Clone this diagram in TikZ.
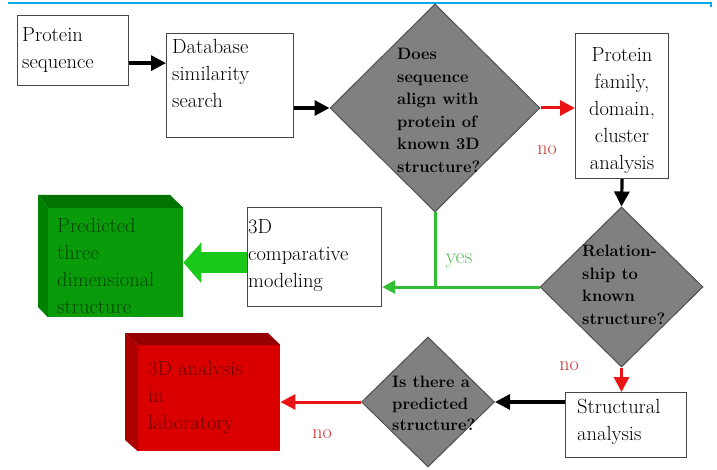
\documentclass[tikz,border=0pt]{standalone}
\usetikzlibrary{arrows.meta,shapes.geometric,calc}
\definecolor{boxgray}{RGB}{70,70,70}
\definecolor{diafill}{RGB}{128,128,128}
\definecolor{diagray}{RGB}{80,80,80}
\definecolor{gfront}{RGB}{10,155,10}
\definecolor{gtop}{RGB}{0,115,0}
\definecolor{gside}{RGB}{0,128,0}
\definecolor{gtext}{RGB}{0,70,0}
\definecolor{garrowc}{RGB}{25,200,25}
\definecolor{glinec}{RGB}{50,190,50}
\definecolor{glabel}{RGB}{90,190,90}
\definecolor{rfront}{RGB}{218,0,0}
\definecolor{rtop}{RGB}{150,0,0}
\definecolor{rside}{RGB}{170,0,0}
\definecolor{rtext}{RGB}{110,0,0}
\definecolor{rlinec}{RGB}{235,20,20}
\definecolor{rlabel}{RGB}{210,50,50}
\definecolor{topblue}{RGB}{0,170,235}
\begin{document}
\begin{tikzpicture}[x=1pt,y=-1pt,
  box/.style={draw=boxgray, line width=1.2pt, fill=white, inner sep=0, anchor=north west},
  txt/.style={inner sep=0, anchor=north west, align=left, font=\fontsize{20.5}{27}\selectfont},
  dia/.style={diamond, draw=diagray, fill=diafill, line width=1pt, inner sep=0},
  dtxt/.style={inner sep=0, anchor=north west, align=left, font=\bfseries\fontsize{16.5}{22.5}\selectfont},
  lbl/.style={inner sep=0, font=\fontsize{20}{25}\selectfont},
  blockface/.style={inner sep=0, anchor=north west},
  barr/.style={draw=black, line width=3.2pt, -{Triangle[length=15pt,width=15pt]}},
  rarr/.style={draw=rlinec, line width=3pt, -{Triangle[length=15pt,width=15pt]}},
  garr/.style={draw=glinec, line width=3pt, -{Triangle[length=13pt,width=13pt]}},
  gline/.style={draw=glinec, line width=3pt},
  bigarr/.style={draw=garrowc, line width=21pt, -{Triangle[length=18pt,width=40pt]}},
]
\useasboundingbox (0,0) rectangle (717,470);
\fill[white] (0,0) rectangle (717,470);
\draw[topblue, line width=1.5pt] (8,3) -- (711,3) -- (711,7);

% boxes
\node[box, minimum width=111pt, minimum height=70pt] (ps) at (17,15) {};
\node[box, minimum width=127pt, minimum height=104pt] (db) at (166,33) {};
\node[box, minimum width=93pt, minimum height=145pt] (pf) at (575,33) {};
\node[box, minimum width=134pt, minimum height=99pt] (cm) at (247,207) {};
\node[box, minimum width=121pt, minimum height=65pt] (sa) at (565,392) {};

% diamonds
\node[dia, minimum width=210pt, minimum height=208pt] (d1) at (435,108) {};
\node[dia, minimum width=163pt, minimum height=160pt] (d2) at (621.5,287) {};
\node[dia, minimum width=133pt, minimum height=130pt] (d3) at (428,402) {};

% green block
\node[blockface, fill=gfront, minimum width=135pt, minimum height=109pt] (gb) at (48,208) {};
\fill[gtop] (gb.north west) -- ++(-10,-13) -- ++(132,0) -- (gb.north east) -- cycle;
\fill[gside] (gb.north west) -- ++(-10,-13) -- ++(0,112) -- (gb.south west) -- cycle;

% red block
\node[blockface, fill=rfront, minimum width=142pt, minimum height=106pt] (rb) at (138,345) {};
\fill[rtop] (rb.north west) -- ++(-13,-12) -- ++(143,0) -- (rb.north east) -- cycle;
\fill[rside] (rb.north west) -- ++(-13,-12) -- ++(0,107) -- (rb.south west) -- cycle;

% texts
\node[txt] (pst) at (22,27) {Protein\\sequence};
\node[txt] (dbt) at (172,39) {Database\\similarity\\search};
\node[txt, align=center, anchor=north] (pft) at (622,47) {Protein\\family,\\domain,\\cluster\\analysis};
\node[txt] (cmt) at (248,219) {3D\\comparative\\modeling};
\node[txt] (sat) at (577,399) {Structural\\analysis};
\node[txt, text=gtext] (gbt) at (57,218) {Predicted\\three\\dimensional\\structure};
\node[txt, text=rtext] (rbt) at (148,361) {3D analysis\\in\\laboratory};

\node[dtxt] (d1t) at (397,48) {Does\\sequence\\align with\\protein of\\known 3D\\structure?};
\node[dtxt] (d2t) at (582,245) {Relation-\\ship to\\known\\structure?};
\node[dtxt, font=\bfseries\fontsize{16.5}{21.5}\selectfont] (d3t) at (392,376) {Is there a\\predicted\\structure?};

% connectors
\draw[barr] ([yshift=-12.5pt]ps.east) -- ([yshift=-12.5pt]ps.east -| db.west);
\draw[barr] (db.east |- d1.west) -- (d1.west);
\draw[rarr] (d1.east) -- (d1.east -| pf.west);
\draw[barr] (pf.south) -- (d2.north);
\draw[gline] (d1.south) -- (d1.south |- d2.west);
\draw[garr] (d2.west) -- (d2.west -| cm.east);
\draw[bigarr] (cm.west |- gb.east) -- (gb.east);
\draw[rarr] (d2.south) -- (d2.south |- sa.north);
\draw[barr] (sa.west |- d3.east) -- (d3.east);
\draw[rarr] (d3.west) -- (d3.west -| rb.east);

% labels
\node[lbl, text=rlabel] (no1) at (547,150) {no};
\node[lbl, text=rlabel] (no2) at (569,366) {no};
\node[lbl, text=rlabel] (no3) at (322,434) {no};
\node[lbl, text=glabel, font=\fontsize{22}{25}\selectfont] (yes) at (459,261) {yes};
\end{tikzpicture}
\end{document}
